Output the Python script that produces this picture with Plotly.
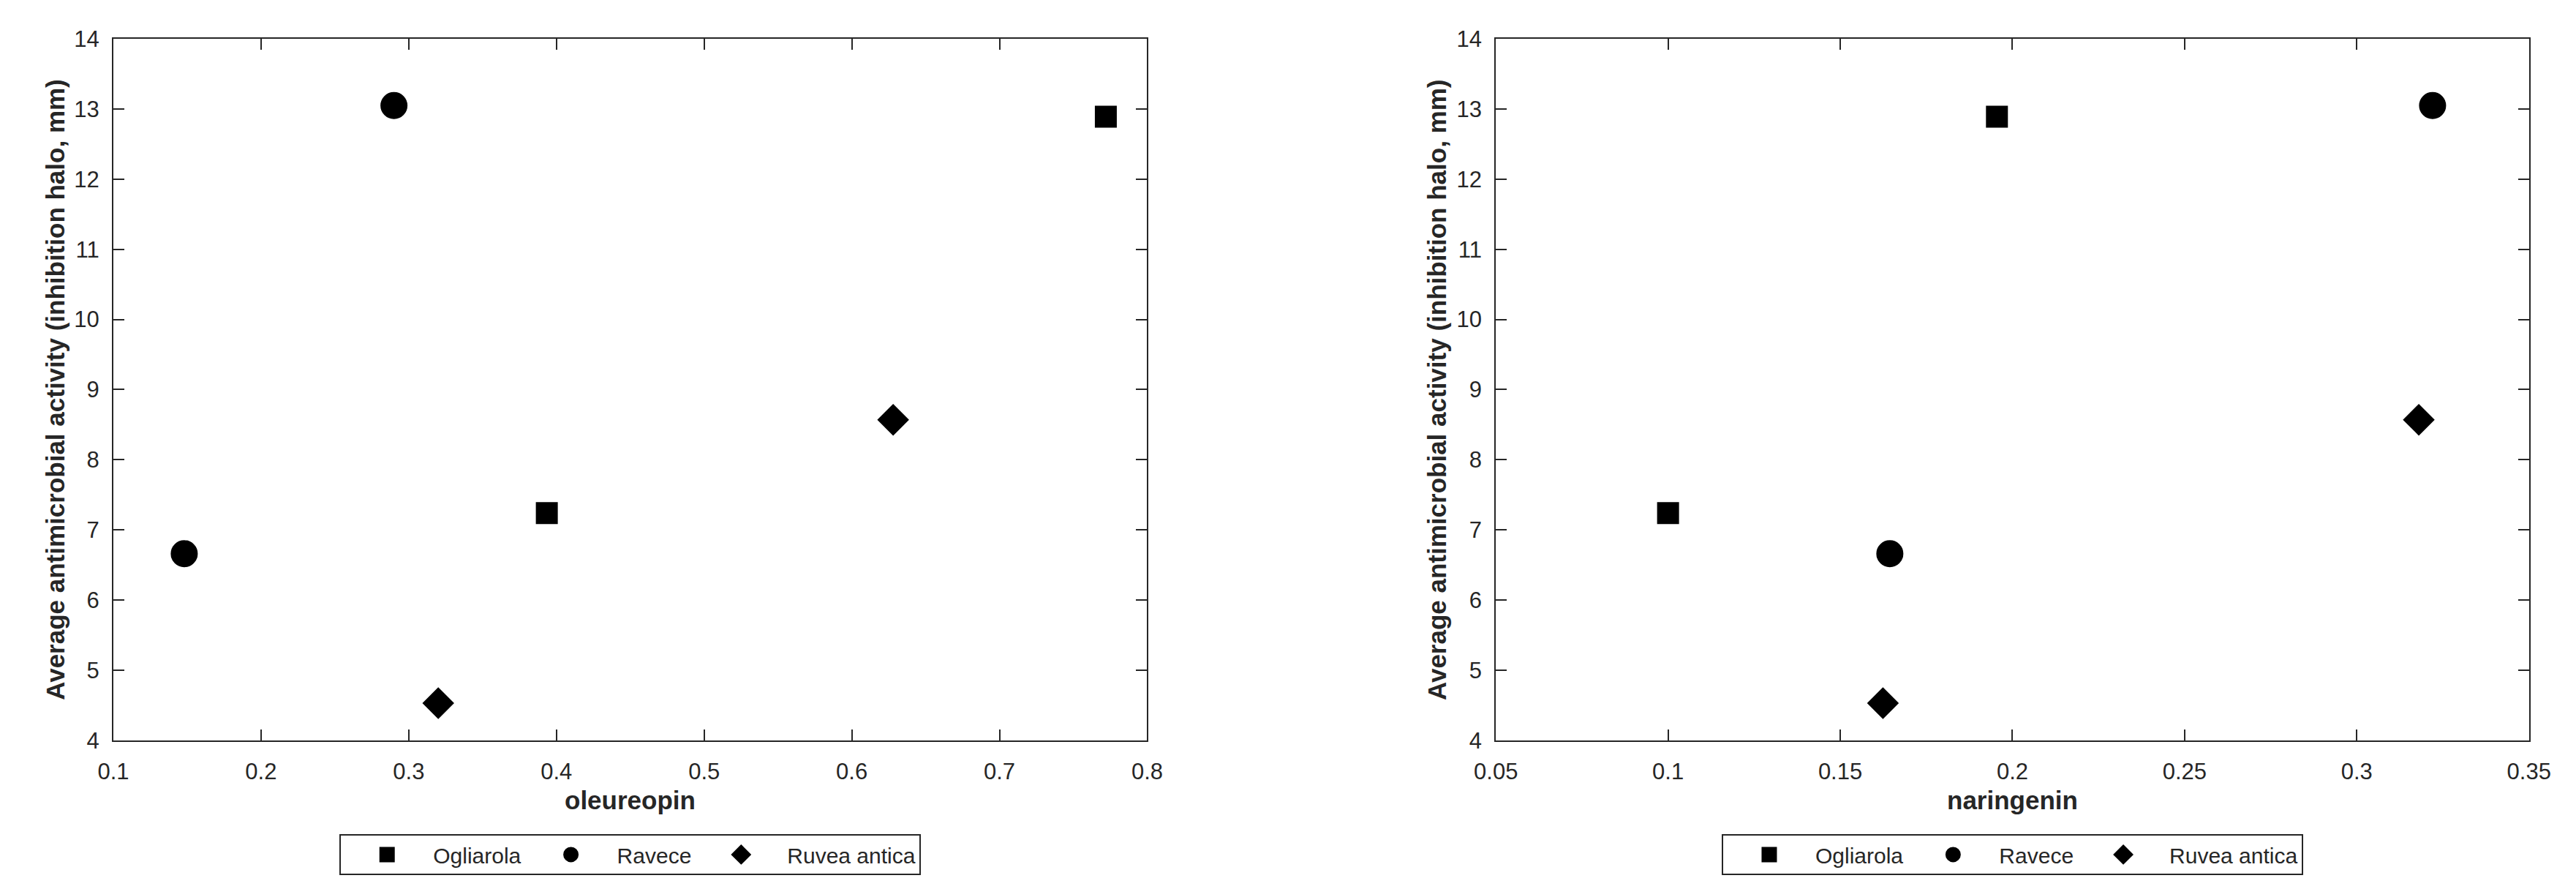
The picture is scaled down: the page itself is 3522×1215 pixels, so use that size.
import plotly.graph_objects as go

# ---------------- data ----------------
cultivars = ["Ogliarola", "Ravece", "Ruvea antica"]
activity = {
    "Ogliarola": [12.89, 7.24],
    "Ravece": [13.05, 6.66],
    "Ruvea antica": [4.53, 8.57],
}
oleureopin = {
    "Ogliarola": [0.772, 0.3935],
    "Ravece": [0.290, 0.148],
    "Ruvea antica": [0.320, 0.628],
}
naringenin = {
    "Ogliarola": [0.1955, 0.100],
    "Ravece": [0.322, 0.1644],
    "Ruvea antica": [0.1624, 0.318],
}
x1_ticks = [0.1, 0.2, 0.3, 0.4, 0.5, 0.6, 0.7, 0.8]
x1_labels = ["0.1", "0.2", "0.3", "0.4", "0.5", "0.6", "0.7", "0.8"]
x2_ticks = [0.05, 0.1, 0.15, 0.2, 0.25, 0.3, 0.35]
x2_labels = ["0.05", "0.1", "0.15", "0.2", "0.25", "0.3", "0.35"]
y_ticks = [4, 5, 6, 7, 8, 9, 10, 11, 12, 13, 14]
y_labels = [str(v) for v in y_ticks]
y_title = "Average antimicrobial activity (inhibition halo, mm)"
x1_title = "oleureopin"
x2_title = "naringenin"

# ---------------- styles ----------------
W, H = 3522, 1215
FONT = "Liberation Sans, Arial, Helvetica, sans-serif"
AX = "#262626"
symbols = {"Ogliarola": "square", "Ravece": "circle", "Ruvea antica": "diamond"}
sizes = {"Ogliarola": 25, "Ravece": 32, "Ruvea antica": 28}

fig = go.Figure()
for name in cultivars:
    mk = dict(symbol=symbols[name], size=sizes[name], color="black",
              line=dict(color="black", width=5))
    fig.add_trace(go.Scatter(x=oleureopin[name], y=activity[name], mode="markers",
                             name=name, marker=mk, xaxis="x", yaxis="y",
                             legend="legend"))
    fig.add_trace(go.Scatter(x=naringenin[name], y=activity[name], mode="markers",
                             name=name, marker=mk, xaxis="x2", yaxis="y2",
                             legend="legend2"))

ydom = [(H - 1016) / H, (H - 29) / H]
dom1 = [119 / W, 1557 / W]
dom2 = [2042 / W, 3479 / W]

def xax(dom, ticks, labels, rng, anchor):
    return dict(domain=dom, range=rng, tickvals=ticks, ticktext=labels,
                showline=True, linecolor=AX, linewidth=2, mirror="ticks",
                ticks="inside", ticklen=15, tickwidth=2, tickcolor=AX,
                showgrid=False, zeroline=False, anchor=anchor,
                tickfont=dict(family=FONT, size=31, color=AX),
                ticklabelstandoff=14)

def yax(anchor):
    return dict(domain=ydom, range=[4, 14], tickvals=y_ticks, ticktext=y_labels,
                showline=True, linecolor=AX, linewidth=2, mirror="ticks",
                ticks="inside", ticklen=15, tickwidth=2, tickcolor=AX,
                showgrid=False, zeroline=False, anchor=anchor,
                tickfont=dict(family=FONT, size=31, color=AX),
                ticklabelstandoff=11)

leg = dict(orientation="h", xanchor="center", yanchor="top",
           y=(H - 1148) / H, bordercolor=AX, borderwidth=2, bgcolor="white",
           font=dict(family=FONT, size=30, color=AX), itemwidth=116,
           itemclick=False, itemdoubleclick=False)

fig.update_layout(
    width=W, height=H, margin=dict(l=0, r=0, t=0, b=0),
    paper_bgcolor="white", plot_bgcolor="white",
    xaxis=xax(dom1, x1_ticks, x1_labels, [0.1, 0.8], "y"),
    yaxis=yax("x"),
    xaxis2=xax(dom2, x2_ticks, x2_labels, [0.05, 0.35], "y2"),
    yaxis2=yax("x2"),
    legend=dict(leg, x=(dom1[0] + dom1[1]) / 2),
    legend2=dict(leg, x=(dom2[0] + dom2[1]) / 2),
    font=dict(family=FONT, color=AX),
)

title_font = dict(family=FONT, size=35, color=AX, weight="bold")
for xc, txt in [((dom1[0] + dom1[1]) / 2, x1_title), ((dom2[0] + dom2[1]) / 2, x2_title)]:
    fig.add_annotation(x=xc, y=(H - 1100) / H, xref="paper", yref="paper",
                       text=txt, showarrow=False, xanchor="center", yanchor="middle",
                       font=title_font)
for xc in [38 / W, 1960 / W]:
    fig.add_annotation(x=xc, y=(ydom[0] + ydom[1]) / 2, xref="paper", yref="paper",
                       text=y_title, showarrow=False, textangle=-90,
                       xanchor="center", yanchor="middle", font=title_font)

fig.write_html("out.html")
